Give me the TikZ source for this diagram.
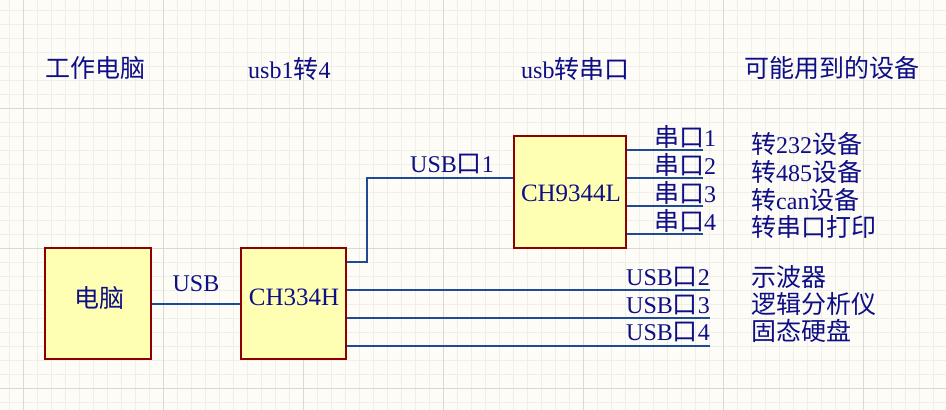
\documentclass[tikz,border=0pt]{standalone}
\usepackage{fontspec}
\setmainfont{Liberation Serif}
\newfontfamily\cjk{Noto Sans CJK SC}
\newcommand\zh[1]{{\cjk\fontsize{25}{28}\selectfont #1}}
\definecolor{bgc}{HTML}{FDFCF7}
\definecolor{minorg}{HTML}{EFEEE8}
\definecolor{majorg}{HTML}{D9D9D4}
\definecolor{chipfill}{HTML}{FFFFB4}
\definecolor{chipline}{HTML}{8B0000}
\definecolor{wirec}{HTML}{1F4A96}
\definecolor{txtc}{HTML}{0E0E86}
\begin{document}
\begin{tikzpicture}[x=1pt,y=-1pt,
  chip/.style={draw=chipline, fill=chipfill, line width=1.4pt, inner sep=0pt},
  wire/.style={draw=wirec, line width=1.2pt},
  txt/.style={text=txtc, inner sep=0pt, font=\fontsize{24}{28}\selectfont},
  bigtxt/.style={txt, font=\fontsize{25}{28}\selectfont},
  ]
\useasboundingbox (0,0) rectangle (946,410);
\fill[bgc] (0,0) rectangle (946,410);
\foreach \x in {9,23,...,946} \draw[minorg, line width=1pt] (\x,0) -- (\x,410);
\foreach \y in {10,24,...,410} \draw[minorg, line width=1pt] (0,\y) -- (946,\y);
\foreach \x in {23,163,...,946} \draw[majorg, line width=1pt] (\x,0) -- (\x,410);
\foreach \y in {108,248,388} \draw[majorg, line width=1pt] (0,\y) -- (946,\y);

% headers
\node[txt, anchor=west] (h1) at (45,68) {\zh{工作电脑}};
\node[txt, anchor=west] (h2) at (248,69) {usb1\zh{转}4};
\node[txt, anchor=west] (h3) at (521,69) {usb\zh{转串口}};
\node[txt, anchor=west] (h4) at (744,68) {\zh{可能用到的设备}};

% boxes
\node[chip, minimum width=106pt, minimum height=111pt] (pc) at (98,303.5) {};
\node[txt] (pct) at (99,298) {\zh{电脑}};
\node[chip, minimum width=105pt, minimum height=111pt] (ch334) at (293.5,303.5) {};
\node[bigtxt] (ch334t) at (294,297) {CH334H};
\node[chip, minimum width=112pt, minimum height=112pt] (ch9344) at (570,192) {};
\node[bigtxt] (ch9344t) at (571,193) {CH9344L};

% wires
\draw[wire] (pc.east |- 0,304) -- (ch334.west |- 0,304);
\node[txt] (usbl) at (196,284) {USB};

\coordinate (bend) at (367,262);
\draw[wire] (ch334.east |- bend) -- (bend) |- (ch9344.west |- 0,178);
\node[txt, anchor=west] (u1) at (410,164) {USB\zh{口}1};

\foreach \y/\n in {290/2,318/3,346/4}{
  \coordinate (ue\n) at (710,\y);
  \draw[wire] (ch334.east |- ue\n) -- (ue\n);
}
\node[txt, anchor=west] (u2) at (626,277) {USB\zh{口}2};
\node[txt, anchor=west] (u3) at (626,305) {USB\zh{口}3};
\node[txt, anchor=west] (u4) at (626,332) {USB\zh{口}4};

\foreach \y/\n in {150/1,178/2,206/3,234/4}{
  \coordinate (se\n) at (703,\y);
  \draw[wire] (ch9344.east |- se\n) -- (se\n);
}
\node[txt, anchor=west] (s1) at (654,137) {\zh{串口}1};
\node[txt, anchor=west] (s2) at (654,165) {\zh{串口}2};
\node[txt, anchor=west] (s3) at (654,193) {\zh{串口}3};
\node[txt, anchor=west] (s4) at (654,221) {\zh{串口}4};

% devices
\node[txt, anchor=west] (d1) at (751,144) {\zh{转}232\zh{设备}};
\node[txt, anchor=west] (d2) at (751,172) {\zh{转}485\zh{设备}};
\node[txt, anchor=west] (d3) at (751,200) {\zh{转}can\zh{设备}};
\node[txt, anchor=west] (d4) at (751,227) {\zh{转串口打印}};
\node[txt, anchor=west] (d5) at (751,277) {\zh{示波器}};
\node[txt, anchor=west] (d6) at (751,304) {\zh{逻辑分析仪}};
\node[txt, anchor=west] (d7) at (751,331) {\zh{固态硬盘}};
\end{tikzpicture}
\end{document}
